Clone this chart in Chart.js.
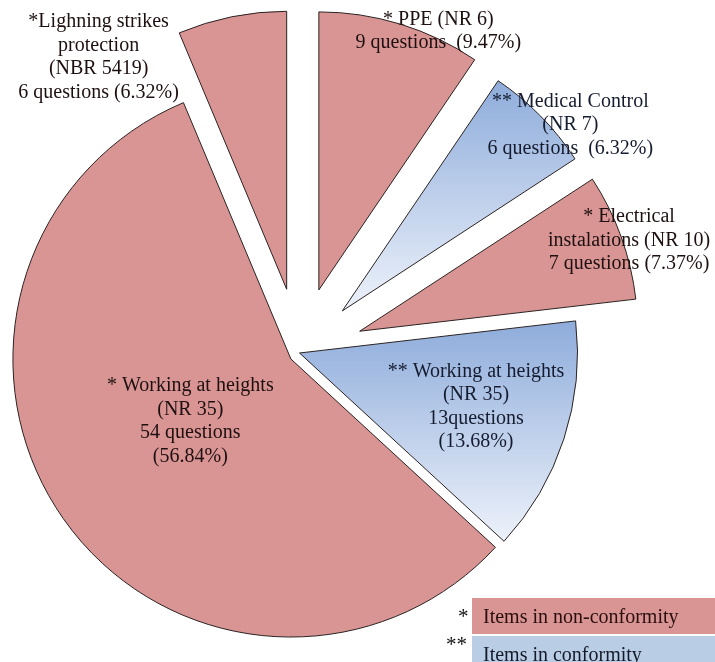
<!DOCTYPE html>
<html>
<head>
<meta charset="utf-8">
<script src="https://cdn.jsdelivr.net/npm/chart.js@4.4.1/dist/chart.umd.min.js"></script>
<style>
  html, body { margin: 0; padding: 0; background: #fff; overflow: hidden; }
  #wrap { position: relative; width: 715px; height: 662px; overflow: hidden; }
  #pie { position: absolute; left: 0; top: 0; }
  .key { position: absolute; left: 472px; width: 260px; height: 36px; line-height: 36px;
         font-family: "Liberation Serif", "Times New Roman", serif; font-size: 20px; padding-left: 11px; box-sizing: border-box; }
  .star { position: absolute; font-family: "Liberation Serif", serif; font-size: 21px; color: #111; }
</style>
</head>
<body>
<div id="wrap">
  <canvas id="pie" width="715" height="662"></canvas>
  <div class="star" style="left:458px; top:604px;">*</div>
  <div class="key" style="top:598px; background:#D99594; color:#2a0e0e;">Items in non-conformity</div>
  <div class="star" style="left:446px; top:632px;">**</div>
  <div class="key" style="top:636px; background:#B9CDE5; color:#141a2a;">Items in conformity</div>
</div>
<script>
// dados (ordem horária a partir do topo)
const categories = ['PPE (NR 6)', 'Medical Control (NR 7)', 'Electrical instalations (NR 10)',
                    'Working at heights (NR 35) - conformity', 'Working at heights (NR 35)',
                    'Lighning strikes protection (NBR 5419)'];
const questions = [9, 6, 7, 13, 54, 6];
const percents = ['9.47%', '6.32%', '7.37%', '13.68%', '56.84%', '6.32%'];
const conformity = [false, true, false, true, false, false];

const labelLines = [
    ['* PPE (NR 6)', '9 questions  (' + percents[0] + ')'],
    ['** Medical Control', '(NR 7)', '6 questions  (' + percents[1] + ')'],
    ['* Electrical', 'instalations (NR 10)', '7 questions (' + percents[2] + ')'],
    ['** Working at heights', '(NR 35)', '13questions', '(' + percents[3] + ')'],
    ['* Working at heights', '(NR 35)', '54 questions', '(' + percents[4] + ')'],
    ['*Lighning strikes', 'protection', '(NBR 5419)', '6 questions (' + percents[5] + ')']
];

// estilo: deslocamento de cada fatia e posição dos rótulos
const explode = [66, 60, 64, 0, 10.5, 65];
const labelPos = [  // [fração do raio, dx, dy]
    [1.0, 38, 7], [1.05, 20, 19], [1.0, 8, 4], [0.66, 2, -3], [0.42, -5, -5], [0.95, -136, 27]
];

const PINK = '#D99594';
const FONT = '"Liberation Serif", "Times New Roman", serif';

// move cada fatia ao longo da bissetriz e aplica o degradê azul
const explodePlugin = {
    id: 'explode',
    afterDatasetsUpdate(chart) {
        const meta = chart.getDatasetMeta(0);
        const ctx = chart.ctx;
        meta.data.forEach((arc, i) => {
            const mid = (arc.startAngle + arc.endAngle) / 2;
            arc.x += Math.cos(mid) * explode[i];
            arc.y += Math.sin(mid) * explode[i];
            if (conformity[i]) {
                let minY = arc.y, maxY = arc.y;
                for (let s = 0; s <= 40; s++) {
                    const a = arc.startAngle + (arc.endAngle - arc.startAngle) * s / 40;
                    const py = arc.y + Math.sin(a) * arc.outerRadius;
                    minY = Math.min(minY, py);
                    maxY = Math.max(maxY, py);
                }
                const g = ctx.createLinearGradient(0, minY, 0, maxY);
                g.addColorStop(0, '#8EACDB');
                g.addColorStop(1, '#EDF2FA');
                arc.options = Object.assign({}, arc.options, { backgroundColor: g });
            }
        });
    }
};

// rótulos de texto sobre as fatias
const labelPlugin = {
    id: 'sliceLabels',
    afterDatasetsDraw(chart) {
        const ctx = chart.ctx;
        const meta = chart.getDatasetMeta(0);
        ctx.save();
        ctx.font = '20px ' + FONT;
        ctx.textAlign = 'center';
        ctx.textBaseline = 'middle';
        meta.data.forEach((arc, i) => {
            const mid = (arc.startAngle + arc.endAngle) / 2;
            const [k, dx, dy] = labelPos[i];
            const cx = arc.x + Math.cos(mid) * arc.outerRadius * k + dx;
            const cy = arc.y + Math.sin(mid) * arc.outerRadius * k + dy;
            const lines = labelLines[i];
            const lh = 23.5;
            ctx.fillStyle = conformity[i] ? '#161c30' : '#1e1010';
            lines.forEach((t, j) => {
                ctx.fillText(t, cx, cy + (j - (lines.length - 1) / 2) * lh);
            });
        });
        ctx.restore();
    }
};

new Chart(document.getElementById('pie'), {
    type: 'pie',
    data: {
        labels: categories,
        datasets: [{
            data: questions,
            backgroundColor: conformity.map(c => c ? '#B9CDE5' : PINK),
            borderColor: '#2a2222',
            borderWidth: 1,
            radius: 278
        }]
    },
    options: {
        responsive: false,
        animation: false,
        events: [],
        layout: { padding: { left: 0, right: 116, top: 44, bottom: 0 } },
        plugins: {
            legend: { display: false },
            tooltip: { enabled: false }
        }
    },
    plugins: [explodePlugin, labelPlugin]
});
</script>
</body>
</html>
